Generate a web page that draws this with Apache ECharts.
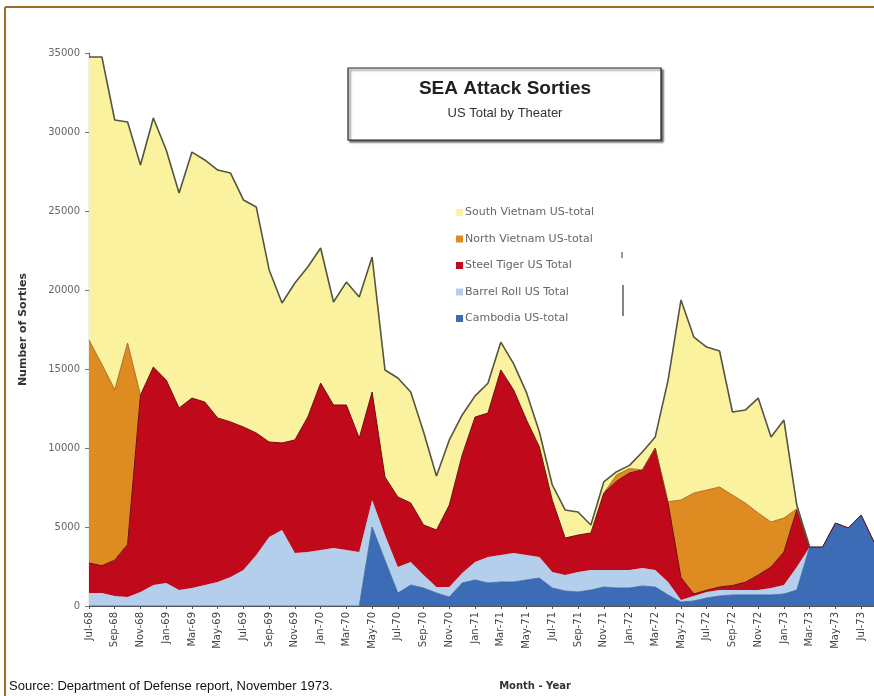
<!DOCTYPE html>
<html><head><meta charset="utf-8">
<script src="https://cdn.jsdelivr.net/npm/echarts@6/dist/echarts.min.js"></script>
<style>html,body{margin:0;padding:0;background:#fff}#c{width:874px;height:696px}</style>
</head><body><div id="c"></div>
<script>
// Month categories (Jul-68 .. Aug-73)
const months = [
 'Jul-68','Aug-68','Sep-68','Oct-68','Nov-68','Dec-68',
 'Jan-69','Feb-69','Mar-69','Apr-69','May-69','Jun-69','Jul-69','Aug-69','Sep-69','Oct-69','Nov-69','Dec-69',
 'Jan-70','Feb-70','Mar-70','Apr-70','May-70','Jun-70','Jul-70','Aug-70','Sep-70','Oct-70','Nov-70','Dec-70',
 'Jan-71','Feb-71','Mar-71','Apr-71','May-71','Jun-71','Jul-71','Aug-71','Sep-71','Oct-71','Nov-71','Dec-71',
 'Jan-72','Feb-72','Mar-72','Apr-72','May-72','Jun-72','Jul-72','Aug-72','Sep-72','Oct-72','Nov-72','Dec-72',
 'Jan-73','Feb-73','Mar-73','Apr-73','May-73','Jun-73','Jul-73','Aug-73'
];
// Series values (sorties per month)
const cambodia = [
 0,0,0,0,0,0, 0,0,0,0,0,0,0,0,0,0,0,0, 0,0,0,0,5000,2900,820,1330,1140,820,570,1460,
 1650,1460,1520,1520,1650,1770,1140,950,890,1010,1200,1140,
 1140,1270,1200,700,250,320,510,630,700,700,700,700,
 760,1010,3730,3730,5250,4940,5760,4050
];
const barrelRoll = [
 820,820,630,570,890,1330, 1460,1010,1140,1330,1520,1840,2280,3230,4370,4810,3350,3420,
 3540,3670,3540,3420,1710,1590,1650,1450,820,380,630,630,
 1130,1640,1710,1830,1580,1330,1010,1010,1260,1270,1080,1140,
 1140,1130,1080,820,130,310,380,380,310,310,310,440,
 570,1460,0,0,0,0,0,0
];
const steelTiger = [
 1900,1730,2270,3330,12460,13800, 12840,11520,12020,11580,10380,9810,9050,7720,6010,5510,7160,8540,
 10570,9050,9180,7210,6830,3670,4430,3740,3170,3610,5190,7470,
 9180,9110,11710,10320,8540,6960,4550,2340,2340,2340,4870,5620,
 6140,6210,7720,4980,1420,130,110,190,290,490,950,1330,
 2090,3610,0,0,0,0,0,0
];
const northVietnam = [
 14120,12750,10800,12750,0,null, null,null,null,null,null,null,null,null,null,null,null,null,
 null,null,null,null,null,null,null,null,null,null,null,null,
 null,null,null,null,null,null,null,null,null,null,0,400,
 280,0,0,100,4910,6390,6340,6330,5720,5020,3930,2850,
 2150,70,0,null,null,null,null,null
];
const southVietnam = [
 17910,19450,17060,13980,14560,15760, 14560,13610,15570,15320,15690,15750,14370,14300,10890,8860,9930,9500,
 8550,6520,7780,8930,8550,6780,7530,7020,5880,3420,4120,2530,
 1340,1890,1760,1650,1730,950,960,1780,1460,510,700,200,
 200,1140,700,7700,12660,9870,9050,8610,5260,5880,7270,5380,
 6200,240,0,null,null,null,null,null
];
const seriesNames = ['South Vietnam US-total','North Vietnam US-total','Steel Tiger US Total','Barrel Roll US Total','Cambodia US-total'];

const chart = echarts.init(document.getElementById('c'), null, {renderer:'canvas'});
const F = 'DejaVu Sans';
function area(name, data, fill, line, lw){
  return {name, type:'line', stack:'all', data, showSymbol:false, symbol:'none',
    itemStyle:{color:fill}, lineStyle:{color:line, width:lw}, areaStyle:{color:fill, opacity:1},
    emphasis:{disabled:true}, animation:false};
}
chart.setOption({
  animation:false,
  grid:{left:89, right:0, top:53, bottom:90, containLabel:false},
  legend:{orient:'vertical', left:451, top:202, itemWidth:7, itemHeight:7, itemGap:15.5, icon:'rect',
    data:seriesNames, selectedMode:false,
    itemStyle:{borderWidth:0},
    textStyle:{color:'#666', fontSize:11, fontFamily:F, padding:[0,0,0,-3]}},
  xAxis:{type:'category', data:months, boundaryGap:false,
    axisLine:{lineStyle:{color:'#555', width:1.2}},
    axisTick:{interval:1, length:3, lineStyle:{color:'#555'}},
    axisLabel:{interval:1, rotate:90, fontSize:10, fontFamily:F, color:'#444', margin:6},
    splitLine:{show:false}},
  yAxis:{type:'value', min:0, max:35000, interval:5000,
    name:'Number of Sorties', nameLocation:'middle', nameGap:60, nameRotate:90,
    nameTextStyle:{fontSize:11, fontWeight:'bold', fontFamily:F, color:'#333'},
    axisLine:{show:true, lineStyle:{color:'#666', width:1.2}},
    axisTick:{show:true, length:4, lineStyle:{color:'#777'}},
    axisLabel:{fontSize:10, fontFamily:F, color:'#666', margin:9, formatter:v=>String(v)},
    splitLine:{show:false}},
  series:[
    area(seriesNames[4], cambodia, '#3c6cb6', '#33609f', 0.8),
    area(seriesNames[3], barrelRoll, '#b4cfec', '#b4cfec', 0),
    area(seriesNames[2], steelTiger, '#c00a1c', '#6a0a0a', 1),
    area(seriesNames[1], northVietnam, '#de8c22', '#9a5a14', 0.8),
    area(seriesNames[0], southVietnam, '#faf29e', '#555540', 1.6)
  ],
  graphic:[
    {type:'line', shape:{x1:5,y1:7,x2:874,y2:7}, style:{stroke:'#9c6c28', lineWidth:2}, silent:true},
    {type:'line', shape:{x1:5,y1:7,x2:5,y2:696}, style:{stroke:'#9c6c28', lineWidth:2}, silent:true},
    {type:'rect', shape:{x:348,y:68,width:313,height:72}, silent:true,
      style:{fill:'#fff', stroke:'#222', lineWidth:1.2, shadowBlur:2, shadowOffsetX:2, shadowOffsetY:2, shadowColor:'rgba(0,0,0,0.6)'}},
    {type:'text', x:505, y:89, silent:true, style:{text:'SEA Attack Sorties', font:'bold 19px "Liberation Sans", Arial', fill:'#222', textAlign:'center', textVerticalAlign:'middle'}},
    {type:'text', x:505, y:113, silent:true, style:{text:'US Total by Theater', font:'13px "Liberation Sans", Arial', fill:'#333', textAlign:'center', textVerticalAlign:'middle'}},
    {type:'line', shape:{x1:622,y1:252,x2:622,y2:258}, style:{stroke:'#333', lineWidth:1}, silent:true},
    {type:'line', shape:{x1:623,y1:285,x2:623,y2:316}, style:{stroke:'#333', lineWidth:1.2}, silent:true},
    {type:'text', x:180, y:298, silent:true, style:{text:'South Vietnam', font:'bold 11px "DejaVu Sans"', fill:'#333', textAlign:'center', textVerticalAlign:'middle'}},
    {type:'text', x:227, y:490, silent:true, style:{text:'Steel Tiger', font:'bold 11px "DejaVu Sans"', fill:'#f6e8d8', stroke:'#3a0a0a', lineWidth:1.5, textAlign:'center', textVerticalAlign:'middle'}},
    {type:'text', x:288, y:580, silent:true, style:{text:'Barrel Roll', font:'11px "DejaVu Sans"', fill:'#3a4860', textAlign:'center', textVerticalAlign:'middle'}},
    {type:'text', x:510, y:593, silent:true, style:{text:'Cambodia', font:'11px "DejaVu Sans"', fill:'#1e2e55', stroke:'#8fb0e0', lineWidth:1.5, textAlign:'center', textVerticalAlign:'middle'}},
    {type:'text', x:727, y:536, silent:true, style:{text:'North', font:'11px "DejaVu Sans"', fill:'#fbe9cc', textAlign:'center', textVerticalAlign:'middle'}},
    {type:'text', x:727, y:553, silent:true, style:{text:'Vietnam', font:'11px "DejaVu Sans"', fill:'#fbe9cc', textAlign:'center', textVerticalAlign:'middle'}},
    {type:'text', x:535, y:686, silent:true, style:{text:'Month - Year', font:'bold 10px "DejaVu Sans"', fill:'#333', textAlign:'center', textVerticalAlign:'middle'}},
    {type:'text', x:9, y:686, silent:true, style:{text:'Source: Department of Defense report, November 1973.', font:'13px "Liberation Sans", Arial', fill:'#111', textAlign:'left', textVerticalAlign:'middle'}}
  ]
});
</script></body></html>
